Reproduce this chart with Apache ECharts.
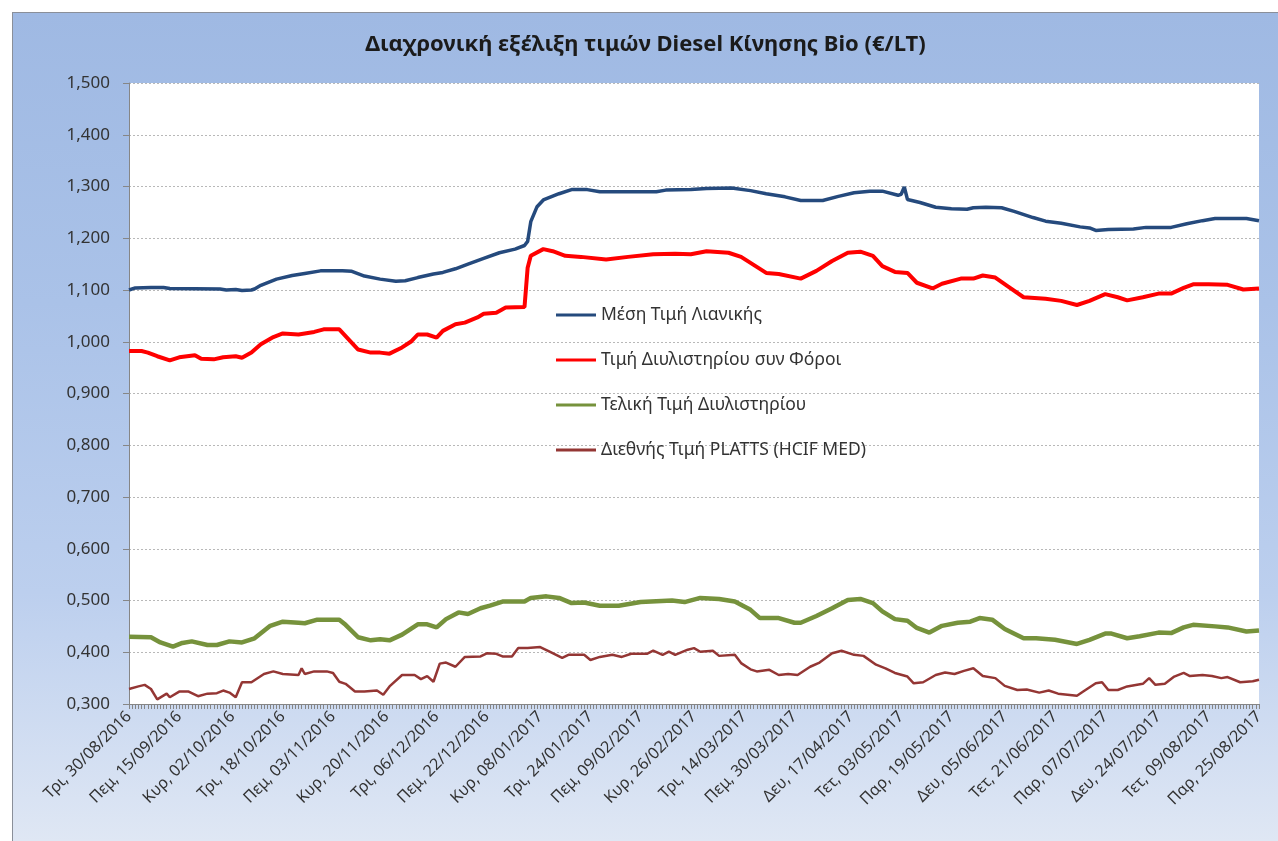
<!DOCTYPE html>
<html>
<head>
<meta charset="utf-8">
<script src="https://cdn.jsdelivr.net/npm/echarts@6/dist/echarts.min.js"></script>
<style>
html,body{margin:0;padding:0;background:#fff;width:1278px;height:841px;overflow:hidden;}
#frame{position:absolute;left:12px;top:12px;width:1265px;height:828px;border-top:1px solid #8a8f99;border-left:1px solid #8a8f99;
background:linear-gradient(to bottom,#9fb9e3 0%,#aac2e8 35%,#bccfee 70%,#dfe7f4 100%);}
#chart{position:absolute;left:0;top:0;width:1265px;height:828px;}
</style>
</head>
<body>
<div id="frame"><div id="chart"></div></div>
<script>
// ---- data ----
const startDate = [2016, 7, 30];   // 30/08/2016
const dayCount = 361;              // through 25/08/2017
const weekdays = ['Κυρ','Δευ','Τρι','Τετ','Πεμ','Παρ','Σαβ'];
const tickLabels = ['Τρι, 30/08/2016','Πεμ, 15/09/2016','Κυρ, 02/10/2016','Τρι, 18/10/2016','Πεμ, 03/11/2016',
  'Κυρ, 20/11/2016','Τρι, 06/12/2016','Πεμ, 22/12/2016','Κυρ, 08/01/2017','Τρι, 24/01/2017','Πεμ, 09/02/2017',
  'Κυρ, 26/02/2017','Τρι, 14/03/2017','Πεμ, 30/03/2017','Δευ, 17/04/2017','Τετ, 03/05/2017','Παρ, 19/05/2017',
  'Δευ, 05/06/2017','Τετ, 21/06/2017','Παρ, 07/07/2017','Δευ, 24/07/2017','Τετ, 09/08/2017','Παρ, 25/08/2017'];
const seriesNames = ['Μέση Τιμή Λιανικής','Τιμή Διυλιστηρίου συν Φόροι','Τελική Τιμή Διυλιστηρίου','Διεθνής Τιμή PLATTS (HCIF MED)'];
const yTicks = {min:0.3, max:1.5, step:0.1};

// [day index from 30/08/2016, value]
const retail = [[0,1.100],[2,1.104],[7,1.105],[11,1.105],[13,1.103],[29,1.102],[31,1.100],[34,1.101],[36,1.099],[39,1.100],[40,1.102],[42,1.109],[47,1.121],[52,1.128],[56,1.132],[61,1.137],[68,1.137],[71,1.136],[75,1.127],[80,1.121],[85,1.117],[88,1.118],[92,1.124],[97,1.131],[100,1.134],[104,1.141],[108,1.150],[113,1.161],[118,1.172],[123,1.179],[126,1.186],[127,1.194],[128,1.232],[130,1.261],[132,1.274],[137,1.286],[141,1.294],[146,1.294],[150,1.290],[168,1.290],[171,1.293],[179,1.294],[184,1.296],[192,1.297],[198,1.292],[203,1.286],[209,1.280],[214,1.273],[221,1.273],[226,1.281],[231,1.288],[236,1.291],[240,1.291],[245,1.283],[246,1.285],[247,1.299],[248,1.275],[252,1.269],[257,1.260],[262,1.257],[267,1.256],[269,1.259],[273,1.260],[278,1.259],[282,1.252],[288,1.240],[292,1.233],[297,1.229],[303,1.222],[306,1.220],[308,1.215],[312,1.217],[320,1.218],[324,1.221],[332,1.221],[337,1.228],[342,1.234],[346,1.238],[356,1.238],[360,1.234]];
const refineryTax = [[0,0.982],[4,0.982],[6,0.979],[9,0.972],[13,0.964],[16,0.970],[21,0.974],[23,0.967],[27,0.966],[30,0.970],[34,0.972],[36,0.969],[39,0.979],[42,0.995],[46,1.009],[49,1.016],[54,1.014],[59,1.019],[62,1.024],[67,1.024],[69,1.011],[73,0.985],[77,0.979],[80,0.979],[83,0.977],[87,0.989],[90,1.001],[92,1.014],[95,1.014],[98,1.008],[100,1.021],[104,1.034],[107,1.037],[111,1.047],[113,1.054],[117,1.056],[120,1.066],[126,1.067],[127,1.143],[128,1.166],[132,1.179],[135,1.175],[139,1.166],[144,1.164],[152,1.159],[159,1.164],[167,1.169],[174,1.170],[179,1.169],[184,1.175],[191,1.172],[195,1.164],[203,1.133],[207,1.131],[214,1.122],[219,1.137],[224,1.156],[229,1.172],[233,1.174],[237,1.166],[240,1.146],[244,1.135],[248,1.133],[251,1.114],[256,1.103],[259,1.112],[265,1.122],[269,1.122],[272,1.128],[276,1.124],[280,1.107],[285,1.086],[292,1.083],[297,1.079],[302,1.071],[306,1.079],[311,1.092],[315,1.086],[318,1.080],[323,1.086],[328,1.093],[332,1.093],[336,1.104],[339,1.111],[344,1.111],[350,1.110],[355,1.101],[360,1.103]];
const refineryFinal = [[0,0.430],[7,0.429],[10,0.419],[14,0.411],[17,0.418],[20,0.421],[25,0.414],[28,0.414],[32,0.421],[36,0.419],[40,0.427],[45,0.451],[49,0.459],[54,0.457],[56,0.456],[60,0.463],[67,0.463],[69,0.453],[73,0.429],[77,0.423],[80,0.425],[83,0.423],[87,0.434],[92,0.454],[95,0.454],[98,0.448],[101,0.464],[105,0.477],[108,0.474],[112,0.485],[115,0.490],[119,0.498],[126,0.498],[128,0.505],[133,0.508],[137,0.505],[141,0.495],[145,0.496],[150,0.490],[156,0.490],[163,0.497],[173,0.500],[177,0.497],[182,0.505],[188,0.503],[193,0.498],[198,0.482],[201,0.466],[207,0.466],[212,0.457],[214,0.457],[219,0.470],[224,0.485],[229,0.501],[233,0.503],[237,0.495],[240,0.479],[244,0.464],[248,0.461],[251,0.447],[255,0.438],[259,0.451],[264,0.457],[268,0.459],[271,0.466],[275,0.463],[279,0.445],[285,0.427],[289,0.427],[295,0.424],[302,0.416],[306,0.424],[311,0.436],[313,0.436],[318,0.427],[322,0.431],[328,0.438],[332,0.437],[336,0.448],[339,0.453],[346,0.450],[350,0.448],[356,0.440],[360,0.442]];
const platts = [[0,0.329],[3,0.334],[5,0.337],[7,0.329],[9,0.309],[12,0.320],[13,0.313],[16,0.324],[19,0.324],[22,0.315],[25,0.320],[28,0.321],[30,0.326],[32,0.322],[34,0.313],[36,0.342],[39,0.342],[43,0.358],[46,0.363],[49,0.358],[54,0.356],[55,0.369],[56,0.358],[59,0.363],[63,0.363],[65,0.360],[67,0.343],[69,0.339],[72,0.324],[75,0.324],[79,0.326],[81,0.318],[83,0.334],[87,0.356],[91,0.356],[93,0.348],[95,0.354],[97,0.343],[99,0.378],[101,0.380],[104,0.372],[107,0.391],[112,0.392],[114,0.398],[117,0.397],[119,0.392],[122,0.392],[124,0.408],[127,0.408],[131,0.410],[134,0.401],[138,0.389],[140,0.395],[145,0.395],[147,0.385],[150,0.391],[154,0.395],[157,0.391],[160,0.397],[165,0.397],[167,0.403],[170,0.395],[172,0.401],[174,0.395],[178,0.405],[180,0.408],[182,0.401],[186,0.403],[188,0.393],[193,0.395],[195,0.379],[198,0.367],[200,0.363],[204,0.366],[207,0.356],[210,0.358],[213,0.356],[217,0.372],[220,0.380],[224,0.398],[227,0.403],[231,0.395],[234,0.393],[238,0.376],[241,0.369],[244,0.360],[248,0.353],[250,0.340],[253,0.342],[257,0.356],[260,0.361],[263,0.358],[266,0.364],[269,0.369],[272,0.354],[276,0.350],[279,0.335],[283,0.327],[286,0.328],[290,0.322],[293,0.326],[296,0.320],[299,0.318],[302,0.316],[304,0.324],[308,0.340],[310,0.342],[312,0.327],[315,0.327],[318,0.334],[323,0.339],[325,0.350],[327,0.337],[330,0.339],[333,0.353],[336,0.360],[338,0.354],[342,0.356],[345,0.354],[348,0.350],[350,0.352],[354,0.342],[358,0.344],[360,0.347]];

// ---- categories (daily dates) ----
const pad = n => (n < 10 ? '0' : '') + n;
const categories = [];
for (let i = 0; i < dayCount; i++) {
  const d = new Date(Date.UTC(startDate[0], startDate[1], startDate[2] + i));
  categories.push(weekdays[d.getUTCDay()] + ', ' + pad(d.getUTCDate()) + '/' + pad(d.getUTCMonth() + 1) + '/' + d.getUTCFullYear());
}
const labelSet = new Set(tickLabels);

const FONT = '"Noto Sans", "DejaVu Sans", sans-serif';
const colors = ['#254a7d', '#ff0000', '#76923c', '#943634'];
const widths = [3.5, 4, 4.5, 2.5];
const seriesData = [retail, refineryTax, refineryFinal, platts];

const chart = echarts.init(document.getElementById('chart'), null, {renderer: 'canvas'});
chart.setOption({
  backgroundColor: 'transparent',
  animation: false,
  title: {
    text: 'Διαχρονική εξέλιξη τιμών Diesel Κίνησης Bio (€/LT)',
    left: 'center', top: 16,
    textStyle: {fontFamily: FONT, fontSize: 22, fontWeight: 'bold', color: '#1b1b1b'}
  },
  legend: {
    orient: 'vertical', left: 538, top: 288,
    itemWidth: 40, itemHeight: 3, itemGap: 27, icon: 'rect',
    textStyle: {fontFamily: FONT, fontSize: 17.5, color: '#333'},
    data: seriesNames
  },
  grid: {left: 116, right: 19, top: 70, bottom: 137, show: true, backgroundColor: '#ffffff', borderWidth: 0},
  xAxis: {
    type: 'category', data: categories, boundaryGap: false,
    axisLine: {lineStyle: {color: '#868686', width: 1}},
    axisTick: {show: true, interval: 0, length: 5, lineStyle: {color: '#868686'}},
    axisLabel: {
      interval: (idx, val) => labelSet.has(val),
      rotate: 45, fontFamily: FONT, fontSize: 16, color: '#333', margin: 10
    },
    splitLine: {show: false}
  },
  yAxis: {
    type: 'value', min: yTicks.min, max: yTicks.max, interval: yTicks.step,
    axisLine: {show: true, lineStyle: {color: '#868686'}},
    axisTick: {show: true, length: 6, lineStyle: {color: '#868686'}},
    axisLabel: {fontFamily: FONT, fontSize: 17, color: '#333', margin: 19,
      formatter: v => v.toFixed(3).replace('.', ',')},
    splitLine: {show: true, lineStyle: {color: '#b8b8b8', type: [2, 2], width: 1}}
  },
  series: seriesNames.map((name, i) => ({
    name, type: 'line', data: seriesData[i], showSymbol: false, symbol: 'none',
    lineStyle: {color: colors[i], width: widths[i]}, itemStyle: {color: colors[i]},
    z: 10 - i
  }))
});
</script>
</body>
</html>
